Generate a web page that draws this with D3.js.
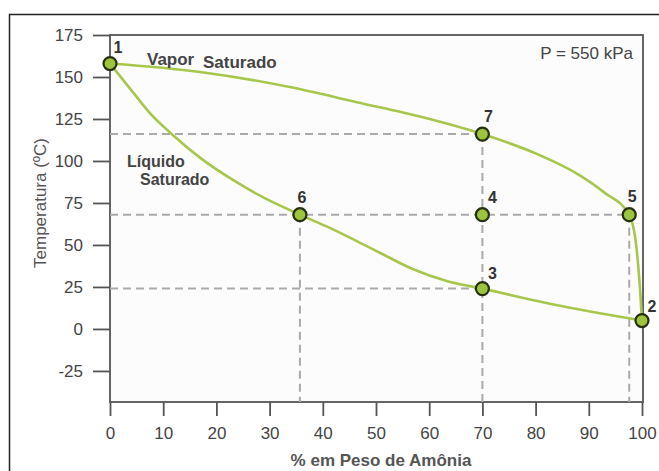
<!DOCTYPE html>
<html>
<head>
<meta charset="utf-8">
<script src="https://cdn.jsdelivr.net/npm/d3@7"></script>
<style>
  body { margin: 0; background: #fff; }
  svg { display: block; font-family: "Liberation Sans", Arial, sans-serif; }
</style>
</head>
<body>
<div id="chart"></div>
<script>
// data
var xTicks = [0, 10, 20, 30, 40, 50, 60, 70, 80, 90, 100];
var yTicks = [-25, 0, 25, 50, 75, 100, 125, 150, 175];

var vaporX = [0, 16.9, 33.8, 46.4, 58.8, 70, 80, 88, 93, 97.6, 98.9, 99.6, 100];
var vaporT = [158, 153, 144, 135, 126, 116, 104.5, 92, 81, 68, 50, 25, 5];

var liquidX = [0, 4.3, 7.5, 11.8, 16.9, 23.1, 29, 35.7, 41.4, 50.8, 57, 63.3, 70, 82, 94.5, 100];
var liquidT = [158, 141, 128.5, 115.5, 102, 88.7, 78, 68, 60, 45.2, 35.5, 28.5, 24, 15.5, 8, 5];

var stateNames = ['1', '2', '3', '4', '5', '6', '7'];
var stateX = [0, 100, 70, 70, 97.6, 35.7, 70];
var stateT = [158, 5, 24, 68, 68, 68, 116];

function generate(){
  var chart_width  = 659;
  var chart_height = 471;

  var svg = d3.select('#chart')
    .append('svg')
    .attr('width', chart_width)
    .attr('height', chart_height);

  // outer frame
  svg.append('rect')
    .attr('x', 9.5).attr('y', 14.5)
    .attr('width', 660).attr('height', 470)
    .attr('fill', 'none')
    .attr('stroke', '#222')
    .attr('stroke-width', 1.5);

  var x_scale = d3.scaleLinear()
    .domain([0, 100])
    .range([110, 642]);

  var y_scale = d3.scaleLinear()
    .domain([-43.5, 175])
    .range([402, 35]);

  // plot box
  svg.append('rect')
    .attr('x', 110).attr('y', 35)
    .attr('width', 533).attr('height', 367)
    .attr('fill', '#fcfcfc')
    .attr('stroke', '#555')
    .attr('stroke-width', 1.8);

  var xAxis = d3.axisBottom(x_scale)
    .tickValues(xTicks)
    .tickSize(14)
    .tickPadding(11);

  var yAxis = d3.axisLeft(y_scale)
    .tickValues(yTicks)
    .tickSize(17)
    .tickPadding(10)
    .tickFormat(function(d){ return String(d); });

  var gx = svg.append('g')
    .attr('transform', 'translate(0,402)')
    .call(xAxis);

  var gy = svg.append('g')
    .attr('transform', 'translate(110,0)')
    .call(yAxis);

  [gx, gy].forEach(function(g){
    g.select('.domain').remove();
    g.selectAll('line').attr('stroke', '#555').attr('stroke-width', 1.8);
    g.selectAll('text')
      .attr('fill', '#444')
      .style('font-size', '17px')
      .style('font-family', '"Liberation Sans", Arial, sans-serif');
  });

  // dashed guides
  var guides = svg.append('g')
    .attr('stroke', '#aaa')
    .attr('stroke-width', 2)
    .attr('stroke-dasharray', '8,5')
    .attr('fill', 'none');

  [6, 2, 4].forEach(function(i){
    guides.append('line')
      .attr('x1', x_scale(0)).attr('x2', x_scale(stateX[i]))
      .attr('y1', y_scale(stateT[i])).attr('y2', y_scale(stateT[i]));
  });

  [5, 6, 4].forEach(function(i){
    guides.append('line')
      .attr('x1', x_scale(stateX[i])).attr('x2', x_scale(stateX[i]))
      .attr('y1', y_scale(stateT[i])).attr('y2', y_scale(-43.5));
  });

  // curves
  var line = d3.line()
    .x(function(d){ return x_scale(d[0]); })
    .y(function(d){ return y_scale(d[1]); })
    .curve(d3.curveMonotoneX);

  svg.append('path')
    .datum(d3.zip(vaporX, vaporT))
    .attr('d', line)
    .attr('fill', 'none')
    .attr('stroke', '#a6c74c')
    .attr('stroke-width', 2.6);

  svg.append('path')
    .datum(d3.zip(liquidX, liquidT))
    .attr('d', line)
    .attr('fill', 'none')
    .attr('stroke', '#a6c74c')
    .attr('stroke-width', 2.6);

  // state points
  var states = d3.zip(stateNames, stateX, stateT);

  svg.selectAll('circle.state')
    .data(states)
    .enter()
    .append('circle')
    .attr('class', 'state')
    .attr('cx', function(d){ return x_scale(d[1]); })
    .attr('cy', function(d){ return y_scale(d[2]); })
    .attr('r', 6.5)
    .attr('fill', '#9cc43c')
    .attr('stroke', '#263010')
    .attr('stroke-width', 2.2);

  var labelOffset = {
    '1': [8, -11], '2': [10, -9], '3': [10, -10], '4': [10, -12],
    '5': [3, -13], '6': [2, -12], '7': [6, -12]
  };

  svg.selectAll('text.state')
    .data(states)
    .enter()
    .append('text')
    .attr('class', 'state')
    .attr('x', function(d){ return x_scale(d[1]) + labelOffset[d[0]][0]; })
    .attr('y', function(d){ return y_scale(d[2]) + labelOffset[d[0]][1]; })
    .attr('text-anchor', 'middle')
    .attr('fill', '#333')
    .style('font-size', '16px')
    .style('font-weight', 'bold')
    .text(function(d){ return d[0]; });

  // region labels
  var notes = svg.append('g')
    .attr('fill', '#444')
    .style('font-weight', 'bold');

  notes.append('text').attr('x', 147).attr('y', 65).style('font-size', '17px').text('Vapor');
  notes.append('text').attr('x', 203).attr('y', 68).style('font-size', '17px').text('Saturado');
  notes.append('text').attr('x', 127).attr('y', 167).style('font-size', '16px').text('Líquido');
  notes.append('text').attr('x', 140).attr('y', 185).style('font-size', '16px').text('Saturado');

  svg.append('text')
    .attr('x', 633).attr('y', 59)
    .attr('text-anchor', 'end')
    .attr('fill', '#444')
    .style('font-size', '17px')
    .text('P = 550 kPa');

  // axis titles
  svg.append('text')
    .attr('transform', 'translate(46,203) rotate(-90)')
    .attr('text-anchor', 'middle')
    .attr('fill', '#555')
    .style('font-size', '17px')
    .text('Temperatura (ºC)');

  svg.append('text')
    .attr('x', 381).attr('y', 466)
    .attr('text-anchor', 'middle')
    .attr('fill', '#555')
    .style('font-size', '17px')
    .style('font-weight', 'bold')
    .text('% em Peso de Amônia');
}

generate();
</script>
</body>
</html>
